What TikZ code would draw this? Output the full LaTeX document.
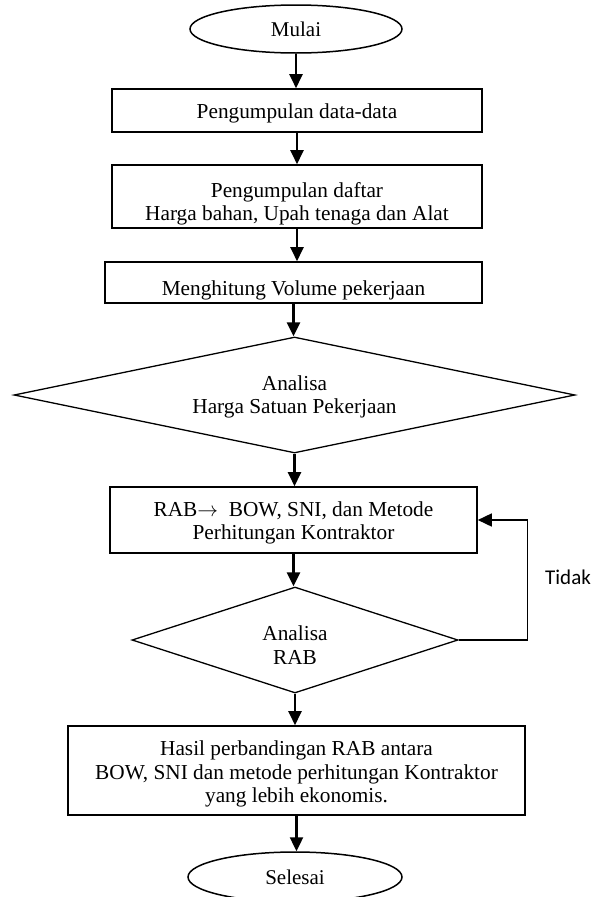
\documentclass[tikz,border=0pt]{standalone}
\usepackage{fontspec}
\setmainfont{Liberation Serif}
\newfontfamily\tidakfont{Carlito}
\usetikzlibrary{arrows.meta,shapes.geometric}
\tikzset{
  box/.style={draw, line width=1.6pt, rectangle, inner sep=0pt},
  dec/.style={draw, diamond, line width=1.3pt, inner sep=0pt},
  term/.style={draw, ellipse, line width=1.5pt, inner sep=0pt, font=\fontsize{21}{23.5}\selectfont},
  txt/.style={align=center, inner sep=0pt, font=\fontsize{21.3}{23.5}\selectfont},
  flow/.style={line width=2.4pt, -{Triangle[width=13pt,length=14pt]}},
  loopline/.style={line width=1.6pt, -{Triangle[width=13pt,length=14pt]}},
}
\begin{document}
\begin{tikzpicture}[x=1pt,y=-1pt]
\useasboundingbox (0,0) rectangle (590,897);
% terminals and boxes
\node[term, minimum width=212pt, minimum height=48pt] (m) at (296,29) {Mulai};
\node[box, minimum width=370pt, minimum height=43pt] (b1) at (297,110.5) {};
\node[txt] (t1) at (297,113) {Pengumpulan data-data};
\node[box, minimum width=370pt, minimum height=63pt] (b2) at (297,196.5) {};
\node[txt] (t2) at (297,204) {Pengumpulan daftar\\Harga bahan, Upah tenaga dan Alat};
\node[box, minimum width=377pt, minimum height=41pt] (b3) at (293.5,282.5) {};
\node[txt] (t3) at (293.5,290) {Menghitung Volume pekerjaan};
\node[dec, minimum width=561pt, minimum height=116pt] (d1) at (294.5,395) {};
\node[txt] (td1) at (294.5,397) {Analisa\\Harga Satuan Pekerjaan};
\node[box, minimum width=367pt, minimum height=66pt] (rab) at (293.5,520) {};
\node[txt] (trab) at (293.5,523) {RAB$\rightarrow$\ \ BOW, SNI, dan Metode\\Perhitungan Kontraktor};
\node[dec, minimum width=326pt, minimum height=106pt] (d2) at (295,640) {};
\node[txt] (td2) at (295,645) {Analisa\\RAB};
\node[box, minimum width=457pt, minimum height=89pt] (fin) at (296.5,770.5) {};
\node[txt] (tfin) at (296.5,774) {Hasil perbandingan RAB antara\\BOW, SNI dan metode perhitungan Kontraktor\\yang lebih ekonomis.};
\node[term, minimum width=214pt, minimum height=50pt] (s) at (295,877) {Selesai};
\node[anchor=west, inner sep=0pt, font=\tidakfont\fontsize{21}{23}\selectfont] (tidak) at (545,577) {Tidak};
% connectors
\draw[flow] (m.south) -- (m.south |- b1.north);
\draw[flow] (b1.south) -- (b1.south |- b2.north);
\draw[flow] (b2.south) -- (b2.south |- b3.north);
\draw[flow] (b3.south) -- (b3.south |- d1.north);
\draw[flow] (d1.south) -- (d1.south |- rab.north);
\draw[flow] (rab.south) -- (rab.south |- d2.north);
\draw[flow] (d2.south) -- (d2.south |- fin.north);
\draw[flow] (fin.south) -- (fin.south |- s.north);
\draw[loopline] (d2.east) -- ++(69,0) |- (rab.east);
\end{tikzpicture}
\end{document}
